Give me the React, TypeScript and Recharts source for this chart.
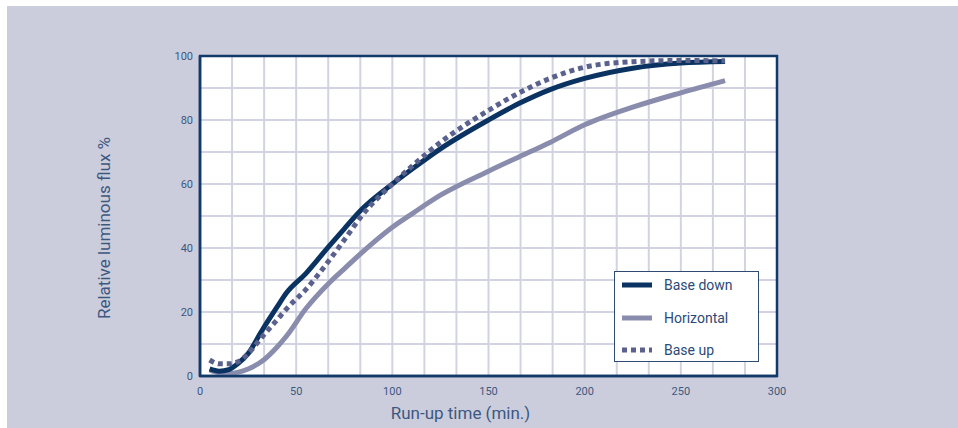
import React from 'react'
import { LineChart, Line, XAxis, YAxis, CartesianGrid, ReferenceArea, Legend } from 'recharts'

// run-up time in minutes
const times = [5, 10, 15, 20, 25, 32, 40, 45, 55, 67, 75, 84, 100, 111, 125, 150, 166, 182, 200, 225, 250, 273]
const baseDown = [2.2, 1.5, 2.0, 4, 7, 14, 21.5, 26, 32, 40.5, 46, 52, 60, 65, 71, 80, 85.2, 89.5, 93, 96.2, 97.8, 98.3]
const horizontal = [1.9, 1.0, 0.8, 1.2, 2.2, 4.5, 9, 12.5, 21, 29, 33.5, 38.5, 46.5, 51, 56.5, 64, 68.5, 73, 78.5, 84, 88.5, 92.3]
const baseUp = [5, 3.8, 3.8, 4.5, 7, 12, 17.5, 21, 27, 36, 42.5, 50, 60, 66, 73, 83, 88.5, 93, 96.5, 98.2, 98.6, 98.5]

const xLabels = [0, 50, 100, 150, 200, 250, 300]
const xGrid = [0, 50 / 3, 100 / 3, 50, 200 / 3, 250 / 3, 100, 350 / 3, 400 / 3, 150, 500 / 3, 550 / 3, 200, 650 / 3, 700 / 3, 250, 800 / 3, 850 / 3, 300]
const yLabels = [0, 20, 40, 60, 80, 100]
const yGrid = [0, 10, 20, 30, 40, 50, 60, 70, 80, 90, 100]

const series = [
  { key: 'baseDown', name: 'Base down', color: '#0b3362', dash: undefined },
  { key: 'horizontal', name: 'Horizontal', color: '#8a8cad', dash: undefined },
  { key: 'baseUp', name: 'Base up', color: '#5a618d', dash: '5 4' },
]

const data = times.map((t, i) => ({ t, baseDown: baseDown[i], horizontal: horizontal[i], baseUp: baseUp[i] }))

const TEXT = '#3d5880'
const FONT = 'Roboto, sans-serif'

function LegendBox() {
  return (
    <div style={{ width: 145, height: 91, boxSizing: 'border-box', border: '1px solid #2f4b73', background: '#fff', fontFamily: FONT }}>
      <div style={{ marginTop: -3 }}>
        {series.map((s) => (
          <div key={s.key} style={{ height: 32.5, display: 'flex', alignItems: 'center' }}>
            <svg width={30} height={6} style={{ marginLeft: 7 }}>
              <line x1={0} y1={3} x2={30} y2={3} stroke={s.color} strokeWidth={5} strokeDasharray={s.dash} />
            </svg>
            <span style={{ marginLeft: 12, fontSize: 14, color: '#2b4a78' }}>{s.name}</span>
          </div>
        ))}
      </div>
    </div>
  )
}

export default function App() {
  return (
    <div style={{ position: 'relative', width: 958, height: 428, background: '#fff', overflow: 'hidden' }}>
      <style>{`body{margin:0}`}</style>
      <div style={{ position: 'absolute', left: 7, top: 6, right: 0, bottom: 0, background: '#cbcddd' }} />
      <div style={{ position: 'absolute', left: 0, top: 0 }}>
        <LineChart width={958} height={428} data={data} margin={{ top: 56, right: 181, bottom: 0, left: 100 }}>
          <CartesianGrid fill="#fff" stroke="#d2d3e2" strokeWidth={2} horizontalValues={yGrid} verticalValues={xGrid} />
          <XAxis
            dataKey="t"
            type="number"
            domain={[0, 300]}
            ticks={xGrid}
            interval={0}
            height={52}
            tickLine={false}
            tickSize={6}
            tickMargin={5}
            axisLine={{ stroke: '#123a68', strokeWidth: 2.5 }}
            tickFormatter={(v) => (xLabels.some((l) => Math.abs(l - v) < 0.01) ? String(Math.round(v)) : '')}
            tick={{ fill: TEXT, fontSize: 11, fontFamily: FONT }}
            label={{
              content: ({ viewBox }: any) => (
                <text x={viewBox.x + viewBox.width / 2 - 28} y={viewBox.y + 43} textAnchor="middle" fill={TEXT} fontSize={17} fontFamily={FONT}>
                  Run-up time (min.)
                </text>
              ),
            }}
          />
          <YAxis
            type="number"
            domain={[0, 100]}
            ticks={yGrid}
            interval={0}
            width={100}
            tickLine={false}
            tickSize={6}
            tickMargin={1}
            axisLine={{ stroke: '#123a68', strokeWidth: 2.5 }}
            tickFormatter={(v) => (yLabels.includes(v) ? String(v) : '')}
            tick={{ fill: TEXT, fontSize: 11, fontFamily: FONT }}
            label={{
              content: ({ viewBox }: any) => {
                const cx = viewBox.x + 10
                const cy = viewBox.y + viewBox.height / 2 + 12
                return (
                  <text x={cx} y={cy} transform={`rotate(-90, ${cx}, ${cy})`} textAnchor="middle" fill={TEXT} fontSize={17} fontFamily={FONT}>
                    Relative luminous flux %
                  </text>
                )
              },
            }}
          />
          <ReferenceArea x1={0} x2={300} y1={0} y2={100} fill="none" fillOpacity={0} stroke="#123a68" strokeWidth={2.5} />
          <Line type="monotone" dataKey="horizontal" name="Horizontal" stroke="#8a8cad" strokeWidth={5} dot={false} isAnimationActive={false} />
          <Line type="monotone" dataKey="baseDown" name="Base down" stroke="#0b3362" strokeWidth={5} dot={false} isAnimationActive={false} />
          <Line type="monotone" dataKey="baseUp" name="Base up" stroke="#5a618d" strokeWidth={5} strokeDasharray="5 4" dot={false} isAnimationActive={false} />
          <Legend layout="vertical" align="center" verticalAlign="middle" content={<LegendBox />} wrapperStyle={{ left: 614, top: 271, width: 145 }} />
        </LineChart>
      </div>
    </div>
  )
}
